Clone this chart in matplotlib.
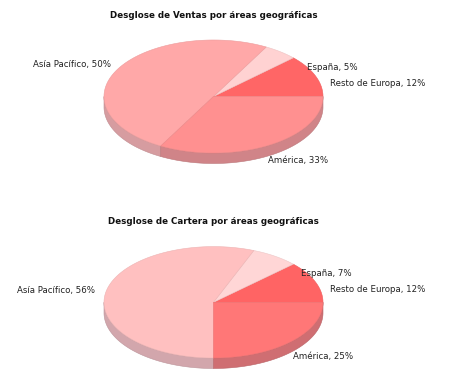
import numpy as np
import matplotlib
matplotlib.use("Agg")
from matplotlib import pyplot as plt
from matplotlib.patches import Polygon
import matplotlib.colors as mcolors

# data
regions_ventas = ["Resto de Europa", "España", "Asía Pacífico", "América"]
ventas = [12, 5, 50, 33]
regions_cartera = ["Resto de Europa", "España", "Asía Pacífico", "América"]
cartera = [12, 7, 56, 25]

titles = ["Desglose de Ventas por áreas geográficas",
          "Desglose de Cartera por áreas geográficas"]

# styles: top face colours and side (depth) colours
colors_ventas = ["#ff6666", "#ffd2d2", "#ffa8a8", "#ff9090"]
sides_ventas = ["#d05c60", "#d8b0b4", "#d69ca0", "#d08488"]
colors_cartera = ["#ff6464", "#ffd6d6", "#ffc0c0", "#ff7777"]
sides_cartera = ["#d05c60", "#d8b4b8", "#d2a6ac", "#cf6e72"]

# layout (pixel coords)
W, H = 453, 390
pies = [dict(cx=213.5, cy=96.5, rx=109.5, ry=56.5, depth=10.5, title_y=16),
        dict(cx=213.5, cy=302.3, rx=109.5, ry=55.7, depth=10.5, title_y=222)]
# label anchors: (x, y, ha)
labels_pos = [
    [(330, 83, "left"), (307, 68, "left"), (111, 64, "right"), (268, 160, "left")],
    [(330, 289, "left"), (301, 274, "left"), (95, 290, "right"), (293, 357, "left")],
]


def darker(c, f):
    r, g, b = mcolors.to_rgb(c)
    return (r * f, g * f, b * f)


def pt(p, a, dy=0.0):
    return (p["cx"] + p["rx"] * np.cos(a), p["cy"] - p["ry"] * np.sin(a) + dy)


def draw_pie(ax, p, values, names, cols, sides, lpos, title):
    total = float(sum(values))
    bounds = np.concatenate([[0], np.cumsum(values)]) / total * 2 * np.pi

    # sides (front half only: angles pi..2pi)
    for i in range(len(values)):
        a0 = max(bounds[i], np.pi)
        a1 = min(bounds[i + 1], 2 * np.pi)
        if a1 <= a0:
            continue
        t = np.linspace(a0, a1, 100)
        top = [pt(p, a) for a in t]
        bot = [pt(p, a, p["depth"]) for a in t[::-1]]
        ax.add_patch(Polygon(top + bot, closed=True, facecolor=sides[i],
                             edgecolor=darker(sides[i], 0.9), lw=0.4, zorder=1))

    # top face
    for i in range(len(values)):
        t = np.linspace(bounds[i], bounds[i + 1], 200)
        verts = [(p["cx"], p["cy"])] + [pt(p, a) for a in t]
        ax.add_patch(Polygon(verts, closed=True, facecolor=cols[i],
                             edgecolor=darker(cols[i], 0.93), lw=0.4, zorder=2))

    for i, nm in enumerate(names):
        x, y, ha = lpos[i]
        ax.text(x, y, "%s, %d%%" % (nm, values[i]), ha=ha, va="center",
                fontsize=6.2, color="#222222", zorder=3)

    ax.text(p["cx"], p["title_y"], title, ha="center", va="center",
            fontsize=6.3, fontweight="bold", color="#111111")


fig = plt.figure(figsize=(W / 100, H / 100), dpi=100)
ax = fig.add_axes([0, 0, 1, 1])
ax.set_xlim(0, W)
ax.set_ylim(H, 0)
ax.axis("off")

draw_pie(ax, pies[0], ventas, regions_ventas, colors_ventas, sides_ventas,
         labels_pos[0], titles[0])
draw_pie(ax, pies[1], cartera, regions_cartera, colors_cartera, sides_cartera,
         labels_pos[1], titles[1])

fig.savefig("out.png", dpi=100, facecolor="white")
